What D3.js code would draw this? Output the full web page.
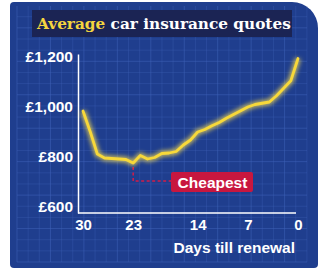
<!DOCTYPE html>
<html>
<head>
<meta charset="utf-8">
<script src="https://cdn.jsdelivr.net/npm/d3@7"></script>
<style>
  body { margin: 0; background: #fff; }
  svg { display: block; }
  text { font-family: "Liberation Sans", Arial, sans-serif; font-weight: bold; }
</style>
</head>
<body>
<div id="chart"></div>
<script>
// Average car insurance quotes by days till renewal
const days = [30, 29, 28, 27, 26, 25, 24, 23, 22, 21, 20, 19, 18, 17, 16, 15,
              14, 13, 12, 11, 10, 9, 8, 7, 6, 5, 4, 3, 2, 1, 0];
const quotes = [984, 902, 812, 796, 794, 792, 790, 776, 806, 792, 798, 814, 816, 822, 848, 868,
                900, 910, 925, 938, 955, 970, 985, 1000, 1010, 1015, 1020, 1045, 1075, 1105, 1194];
const xTicks = [30, 23, 14, 7, 0];
const yTicks = [600, 800, 1000, 1200];
const cheapestDay = 23;

const W = 320, H = 279;

const svg = d3.select("#chart").append("svg")
    .attr("width", W)
    .attr("height", H);

const defs = svg.append("defs");
defs.append("filter")
    .attr("id", "glow")
    .attr("x", "-20%").attr("y", "-20%")
    .attr("width", "140%").attr("height", "140%")
    .append("feGaussianBlur")
    .attr("stdDeviation", 2.2);

//--------------------------------------------------
// Panel
//--------------------------------------------------
const px0 = 10, py0 = 2, px1 = 318, py1 = 268, rBig = 26, rSm = 4;
svg.append("path")
    .attr("d", `M${px0 + rSm},${py0} H${px1 - rBig} A${rBig},${rBig} 0 0 1 ${px1},${py0 + rBig}
        V${py1 - rSm} A${rSm},${rSm} 0 0 1 ${px1 - rSm},${py1} H${px0 + rSm}
        A${rSm},${rSm} 0 0 1 ${px0},${py1 - rSm} V${py0 + rSm} A${rSm},${rSm} 0 0 1 ${px0 + rSm},${py0} Z`)
    .attr("fill", "#1f3e8e");

// background grid
const step = 11.15;
const grid = svg.append("g").attr("stroke", "#3f63b8").attr("stroke-width", 0.6);
d3.range(0, 27).forEach(i => {
    grid.append("line")
        .attr("x1", 17 + i * step).attr("x2", 17 + i * step)
        .attr("y1", 6).attr("y2", 262)
        .attr("stroke-opacity", i % 3 === 0 ? 0.9 : 0.55);
});
d3.range(0, 23).forEach(j => {
    grid.append("line")
        .attr("x1", 17).attr("x2", 307)
        .attr("y1", 262 - j * step).attr("y2", 262 - j * step)
        .attr("stroke-opacity", j % 3 === 0 ? 0.9 : 0.55);
});

//--------------------------------------------------
// Title
//--------------------------------------------------
svg.append("rect")
    .attr("x", 32).attr("y", 10)
    .attr("width", 260).attr("height", 27)
    .attr("fill", "#1b2454");

const title = svg.append("text")
    .attr("x", 37).attr("y", 29)
    .style("font-family", "'DejaVu Serif', serif")
    .style("font-size", "15.3px")
    .attr("fill", "#fff");
title.append("tspan").attr("fill", "#f5d53f").text("Average");
title.append("tspan").text(" car insurance quotes");

//--------------------------------------------------
// Scales & axes
//--------------------------------------------------
const x = d3.scaleLinear().domain([30, 0]).range([83, 298]);
const y = d3.scaleLinear().domain([576, 1212]).range([213, 54]);

const yAxis = svg.append("g")
    .attr("transform", "translate(78,0)")
    .call(d3.axisLeft(y).tickValues(yTicks).tickSize(0).tickPadding(5)
        .tickFormat(d => "£" + d3.format(",")(d)));
yAxis.select(".domain").attr("stroke", "#fff").attr("stroke-width", 1.5);
yAxis.selectAll("text")
    .attr("fill", "#fff")
    .style("font-size", "15.5px");

const xAxis = svg.append("g")
    .attr("transform", "translate(0,213)")
    .call(d3.axisBottom(x).tickValues(xTicks).tickSize(0).tickPadding(6));
xAxis.select(".domain")
    .attr("d", "M78,0H296")
    .attr("stroke", "#fff").attr("stroke-width", 1.5);
xAxis.selectAll("text")
    .attr("fill", "#fff")
    .style("font-size", "15px");

svg.append("text")
    .attr("x", 295).attr("y", 253)
    .attr("text-anchor", "end")
    .attr("fill", "#fff")
    .style("font-size", "15.5px")
    .text("Days till renewal");

//--------------------------------------------------
// Cheapest annotation
//--------------------------------------------------
const cheapIdx = days.indexOf(cheapestDay);
const cx = x(cheapestDay), cy = y(quotes[cheapIdx]);
svg.append("path")
    .attr("d", `M${cx},${cy + 4} V181 H172`)
    .attr("fill", "none")
    .attr("stroke", "#d41c48")
    .attr("stroke-width", 1.5)
    .attr("stroke-dasharray", "3,2.5");

svg.append("rect")
    .attr("x", 171).attr("y", 172)
    .attr("width", 82).attr("height", 20)
    .attr("rx", 2)
    .attr("fill", "#c8173f");
svg.append("text")
    .attr("x", 212.5).attr("y", 187.5)
    .attr("text-anchor", "middle")
    .attr("fill", "#fff")
    .style("font-size", "15.5px")
    .text("Cheapest");

//--------------------------------------------------
// Line with glow
//--------------------------------------------------
const line = d3.line()
    .x((d, i) => x(days[i]))
    .y(d => y(d));

svg.append("path")
    .datum(quotes)
    .attr("fill", "none")
    .attr("stroke", "#ffe34d")
    .attr("stroke-width", 6)
    .attr("stroke-opacity", 0.7)
    .attr("stroke-linejoin", "round")
    .attr("filter", "url(#glow)")
    .attr("d", line);

svg.append("path")
    .datum(quotes)
    .attr("fill", "none")
    .attr("stroke", "#f7d83a")
    .attr("stroke-width", 2.8)
    .attr("stroke-linejoin", "round")
    .attr("stroke-linecap", "round")
    .attr("d", line);
</script>
</body>
</html>
